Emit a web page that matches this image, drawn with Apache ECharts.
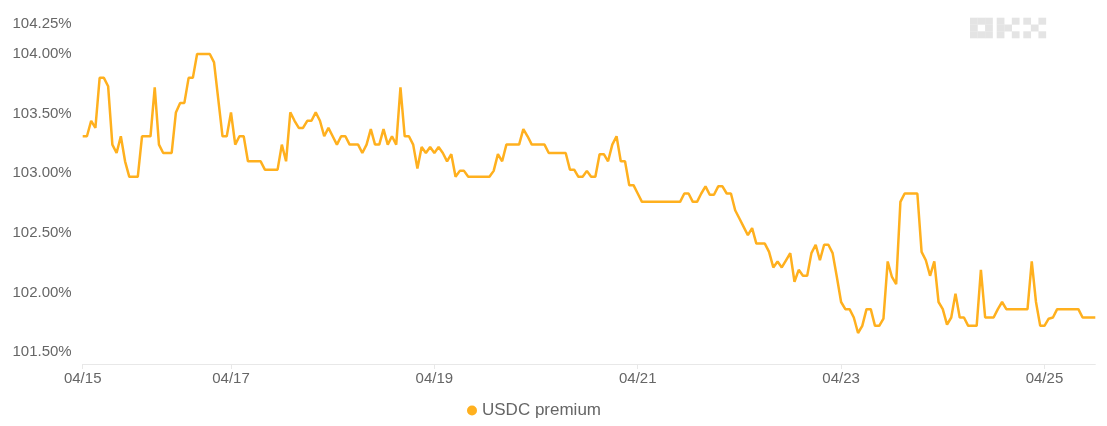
<!DOCTYPE html>
<html>
<head>
<meta charset="utf-8">
<script src="https://cdn.jsdelivr.net/npm/echarts@6/dist/echarts.min.js"></script>
<style>
html,body{margin:0;padding:0;background:#fff;}
#chart{width:1107px;height:426px;}
</style>
</head>
<body>
<div id="chart"></div>
<script>
// Hourly samples, starting 04/15 13:00
const startTime = '2024-04-15T13:00:00';
const seriesName = 'USDC premium';
const premium = [
  103.31,103.31,103.44,103.38,103.80,103.80,103.73,103.24,103.17,103.31,
  103.10,102.97,102.97,102.97,103.31,103.31,103.31,103.72,103.24,103.17,
  103.17,103.17,103.51,103.59,103.59,103.80,103.80,104.00,104.00,104.00,
  104.00,103.93,103.62,103.31,103.31,103.51,103.24,103.31,103.31,103.10,
  103.10,103.10,103.10,103.03,103.03,103.03,103.03,103.24,103.10,103.51,
  103.44,103.38,103.38,103.44,103.44,103.51,103.44,103.31,103.38,103.31,
  103.24,103.31,103.31,103.24,103.24,103.24,103.17,103.24,103.37,103.24,
  103.24,103.37,103.24,103.31,103.24,103.72,103.31,103.31,103.24,103.04,
  103.22,103.17,103.22,103.17,103.22,103.17,103.10,103.16,102.97,103.02,
  103.02,102.97,102.97,102.97,102.97,102.97,102.97,103.02,103.16,103.10,
  103.24,103.24,103.24,103.24,103.37,103.31,103.24,103.24,103.24,103.24,
  103.17,103.17,103.17,103.17,103.17,103.03,103.03,102.97,102.97,103.02,
  102.97,102.97,103.16,103.16,103.10,103.24,103.31,103.10,103.10,102.90,
  102.90,102.83,102.76,102.76,102.76,102.76,102.76,102.76,102.76,102.76,
  102.76,102.76,102.83,102.83,102.76,102.76,102.83,102.89,102.82,102.82,
  102.89,102.89,102.83,102.83,102.69,102.62,102.55,102.48,102.54,102.41,
  102.41,102.41,102.34,102.21,102.26,102.21,102.27,102.33,102.09,102.19,
  102.14,102.14,102.33,102.40,102.27,102.40,102.40,102.33,102.13,101.92,
  101.86,101.86,101.79,101.66,101.72,101.86,101.86,101.72,101.72,101.78,
  102.26,102.13,102.07,102.76,102.83,102.83,102.83,102.83,102.34,102.27,
  102.14,102.26,101.92,101.86,101.73,101.79,101.99,101.79,101.79,101.72,
  101.72,101.72,102.19,101.79,101.79,101.79,101.86,101.92,101.86,101.86,
  101.86,101.86,101.86,101.86,102.26,101.92,101.72,101.72,101.78,101.79,
  101.86,101.86,101.86,101.86,101.86,101.86,101.79,101.79,101.79,101.79
];
const yMin = 101.4;
const yMax = 104.25;

// hourly category labels
const categories = [];
{
  const t0 = new Date(startTime).getTime();
  for (let i = 0; i < premium.length; i++) {
    const d = new Date(t0 + i * 3600000);
    const mm = String(d.getMonth() + 1).padStart(2, '0');
    const dd = String(d.getDate()).padStart(2, '0');
    const hh = String(d.getHours()).padStart(2, '0');
    categories.push(mm + '/' + dd + ' ' + hh + ':00');
  }
}
function showTick(index, value) {
  if (index === 0) return true;
  const day = parseInt(value.slice(3, 5), 10);
  return value.slice(6) === '00:00' && day % 2 === 1;
}

const lineColor = '#FFB01E';
const font = "'Liberation Sans', Arial, sans-serif";

// OKX watermark blocks
const logoColor = '#E4E4E4';
const ux = 7.55, uy = 6.8, ly = 17.7;
const letters = [
  {x: 970, cells: [[0,0],[1,0],[2,0],[0,1],[2,1],[0,2],[1,2],[2,2]]},
  {x: 996.7, cells: [[0,0],[0,1],[0,2],[1,1],[2,0],[2,2]]},
  {x: 1023.3, cells: [[0,0],[2,0],[1,1],[0,2],[2,2]]}
];
const logo = [];
letters.forEach(l => l.cells.forEach(c => {
  logo.push({type: 'rect', silent: true, z: 0,
    shape: {x: l.x + c[0] * ux, y: ly + c[1] * uy, width: ux + 0.2, height: uy + 0.2},
    style: {fill: logoColor}});
}));

const chart = echarts.init(document.getElementById('chart'), null, {renderer: 'canvas'});
chart.setOption({
  animation: false,
  backgroundColor: '#fff',
  grid: {left: 82.7, right: 11.7, top: 24.2, bottom: 62},
  graphic: logo,
  legend: {
    data: [{name: seriesName, icon: 'circle'}],
    left: 462, top: 397,
    itemWidth: 10, itemHeight: 10, itemGap: 10,
    textStyle: {fontSize: 17, color: '#666', fontFamily: font}
  },
  xAxis: {
    type: 'category',
    data: categories,
    boundaryGap: false,
    axisLine: {lineStyle: {color: '#E8E8E8', width: 1}},
    axisTick: {show: true, interval: showTick, length: 5, lineStyle: {color: '#E8E8E8'}},
    axisLabel: {
      interval: showTick, margin: 7,
      color: '#666', fontSize: 15, fontFamily: font,
      formatter: v => v.slice(0, 5)
    },
    splitLine: {show: false}
  },
  yAxis: {
    type: 'value',
    min: yMin, max: yMax,
    splitNumber: 5,
    axisLine: {show: false},
    axisTick: {show: false},
    splitLine: {show: false},
    axisLabel: {
      showMinLabel: false, showMaxLabel: true,
      margin: 11, color: '#666', fontSize: 15, fontFamily: font,
      formatter: v => v.toFixed(2) + '%'
    }
  },
  series: [{
    name: seriesName,
    type: 'line',
    data: premium,
    showSymbol: false,
    symbol: 'circle',
    itemStyle: {color: lineColor},
    lineStyle: {color: lineColor, width: 2.5},
    z: 2
  }]
});
</script>
</body>
</html>
